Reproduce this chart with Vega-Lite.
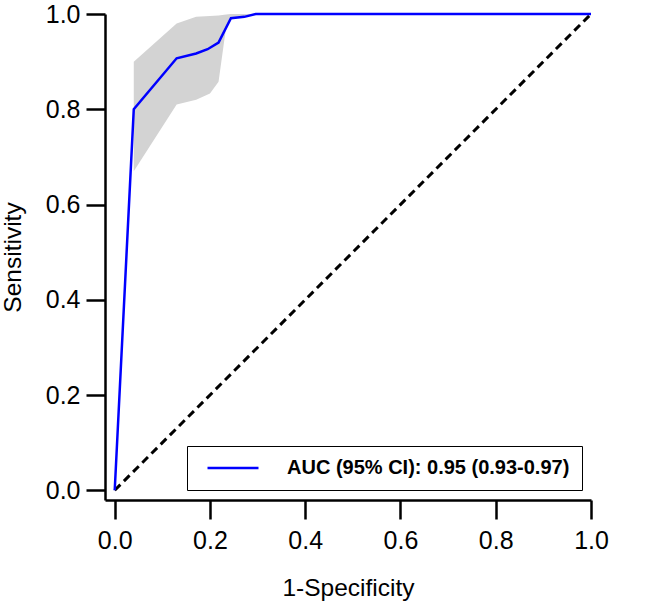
{
  "$schema": "https://vega.github.io/schema/vega-lite/v6.json",
  "width": 486,
  "height": 486,
  "autosize": {"type": "none"},
  "padding": {"left": 105, "top": 14, "right": 55, "bottom": 102},
  "background": "white",
  "config": {
    "view": {"stroke": null},
    "font": "Liberation Sans",
    "axis": {
      "grid": false,
      "domainColor": "black",
      "domainWidth": 2.5,
      "tickColor": "black",
      "tickWidth": 2.5,
      "tickSize": 19,
      "labelColor": "black",
      "labelFont": "Liberation Sans",
      "labelFontSize": 25,
      "titleColor": "black",
      "titleFont": "Liberation Sans",
      "titleFontSize": 24.5,
      "titleFontWeight": "normal",
      "labelFlush": false,
      "labelOverlap": false,
      "labelBound": false
    }
  },
  "datasets": {
    "roc": [
      {"fpr": 0.0, "tpr": 0.0, "series": "AUC (95% CI): 0.95 (0.93-0.97)"},
      {"fpr": 0.04, "tpr": 0.80, "series": "AUC (95% CI): 0.95 (0.93-0.97)"},
      {"fpr": 0.13, "tpr": 0.907, "series": "AUC (95% CI): 0.95 (0.93-0.97)"},
      {"fpr": 0.171, "tpr": 0.917, "series": "AUC (95% CI): 0.95 (0.93-0.97)"},
      {"fpr": 0.195, "tpr": 0.926, "series": "AUC (95% CI): 0.95 (0.93-0.97)"},
      {"fpr": 0.218, "tpr": 0.94, "series": "AUC (95% CI): 0.95 (0.93-0.97)"},
      {"fpr": 0.244, "tpr": 0.991, "series": "AUC (95% CI): 0.95 (0.93-0.97)"},
      {"fpr": 0.272, "tpr": 0.994, "series": "AUC (95% CI): 0.95 (0.93-0.97)"},
      {"fpr": 0.296, "tpr": 1.0, "series": "AUC (95% CI): 0.95 (0.93-0.97)"},
      {"fpr": 1.0, "tpr": 1.0, "series": "AUC (95% CI): 0.95 (0.93-0.97)"}
    ],
    "ci": [
      {"fpr": 0.04, "lo": 0.67, "hi": 0.90},
      {"fpr": 0.13, "lo": 0.81, "hi": 0.98},
      {"fpr": 0.171, "lo": 0.82, "hi": 0.994},
      {"fpr": 0.20, "lo": 0.833, "hi": 0.996},
      {"fpr": 0.218, "lo": 0.858, "hi": 0.997},
      {"fpr": 0.234, "lo": 0.973, "hi": 0.999},
      {"fpr": 0.244, "lo": 0.99, "hi": 1.0},
      {"fpr": 0.272, "lo": 0.993, "hi": 1.0},
      {"fpr": 0.296, "lo": 1.0, "hi": 1.0}
    ],
    "diag": [
      {"fpr": 0.0, "tpr": 0.0},
      {"fpr": 1.0, "tpr": 1.0}
    ]
  },
  "layer": [
    {
      "data": {"name": "ci"},
      "mark": {"type": "area", "color": "#d3d3d3"},
      "encoding": {
        "x": {"field": "fpr", "type": "quantitative", "scale": {"domain": [-0.0204, 1], "nice": false, "zero": false},
              "axis": {"values": [0, 0.2, 0.4, 0.6, 0.8, 1.0], "format": ".1f", "title": "1-Specificity", "labelPadding": 9, "titlePadding": 23}},
        "y": {"field": "hi", "type": "quantitative", "scale": {"domain": [-0.0204, 1], "nice": false, "zero": false},
              "axis": {"values": [0, 0.2, 0.4, 0.6, 0.8, 1.0], "format": ".1f", "title": "Sensitivity", "labelPadding": 6, "titlePadding": 20}},
        "y2": {"field": "lo"}
      }
    },
    {
      "data": {"name": "diag"},
      "mark": {"type": "line", "color": "black", "strokeWidth": 3, "strokeDash": [8, 5]},
      "encoding": {
        "x": {"field": "fpr", "type": "quantitative"},
        "y": {"field": "tpr", "type": "quantitative"}
      }
    },
    {
      "data": {"name": "roc"},
      "mark": {"type": "line", "strokeWidth": 2.5},
      "encoding": {
        "x": {"field": "fpr", "type": "quantitative"},
        "y": {"field": "tpr", "type": "quantitative"},
        "color": {
          "field": "series", "type": "nominal",
          "scale": {"range": ["#0000ff"]},
          "legend": {
            "title": null,
            "orient": "none",
            "legendX": 82,
            "legendY": 432,
            "direction": "vertical",
            "padding": 12,
            "symbolOffset": 24,
            "strokeColor": "black",
            "fillColor": "white",
            "symbolType": "M-5,0H5",
            "symbolSize": 104,
            "symbolStrokeWidth": 2.5,
            "labelFont": "Liberation Sans",
            "labelFontSize": 20,
            "labelFontWeight": "bold",
            "labelColor": "black",
            "labelOffset": 44,
            "labelLimit": 0
          }
        }
      }
    }
  ]
}
